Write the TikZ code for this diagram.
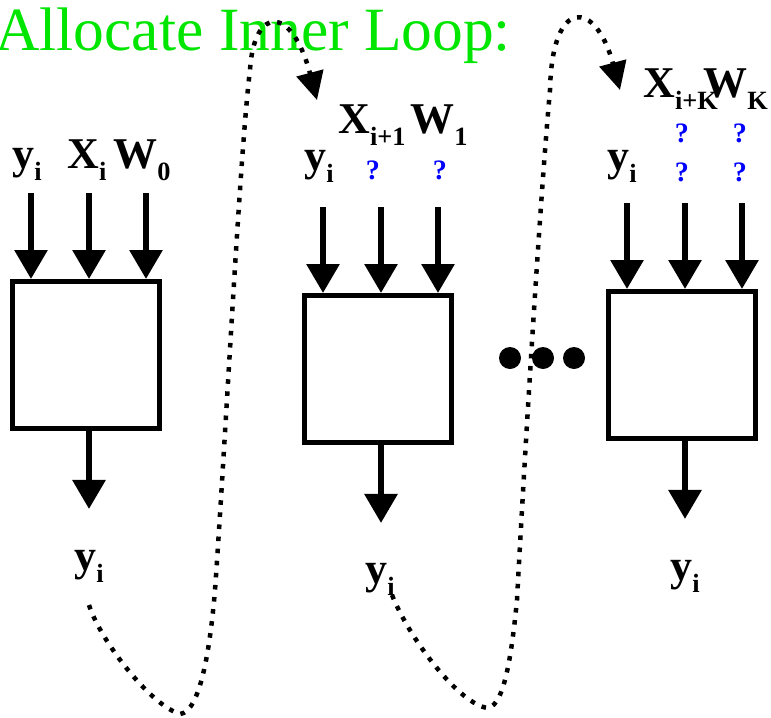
\documentclass[tikz,border=0pt]{standalone}
\usepackage{fontspec}
\setmainfont{Liberation Serif}
\usetikzlibrary{arrows.meta, positioning, calc}
\definecolor{titlegreen}{RGB}{0,230,0}
\definecolor{qblue}{RGB}{0,0,255}
\tikzset{
  blk/.style={draw=black, line width=0.1cm, minimum width=2.94cm, minimum height=2.94cm,
              inner sep=0pt},
  lbl/.style={anchor=base west, inner sep=0pt, font=\fontsize{25}{25}\selectfont\bfseries},
  qm/.style={inner sep=0pt, text=qblue, font=\fontsize{16}{16}\selectfont\bfseries},
  dotc/.style={circle, fill=black, inner sep=0pt, minimum size=0.44cm},
  flow/.style={-{Triangle[length=0.58cm, width=0.64cm]}, line width=0.12cm},
  loopflow/.style={-{Triangle[length=0.56cm, width=0.54cm]}, line width=0.09cm,
                   dash pattern=on 2.6pt off 4.3pt},
}
\newcommand{\sub}[2]{#1\raisebox{-7pt}{\fontsize{15}{15}\selectfont #2}}

\begin{document}
\begin{tikzpicture}[x=0.02cm, y=-0.02cm]
  \useasboundingbox (0,0) rectangle (771,717);
  \node[anchor=base west, inner sep=0pt, text=titlegreen,
        font=\fontsize{35}{35}\selectfont] (title) at (-5,50) {Allocate Inner Loop:};
  % blocks
  \node[blk] (b1) at (86,355) {};
  \node[blk] (b2) at (378,369) {};
  \node[blk] (b3) at (682,365) {};
  \foreach \b in {b1,b2,b3}{
    \foreach \dx in {-55,3,60}
      \draw[flow] ($(\b.north)+(\dx,-86)$) -- ($(\b.north)+(\dx,0)$);
    \draw[flow] ($(\b.south)+(3,0)$) -- ++(0,78);
  }
  % inputs
  \node[lbl] (y1) at (12,168) {\sub{y}{i}};
  \node[lbl] (x1) at (67,168) {\sub{X}{i}};
  \node[lbl] (w1) at (113,168) {\sub{W}{0}};
  \node[lbl] (y2) at (304,170) {\sub{y}{i}};
  \node[lbl] (x2) at (338,133) {\sub{X}{i+1}};
  \node[lbl] (w2) at (410,133) {\sub{W}{1}};
  \node[lbl] (y3) at (607,170) {\sub{y}{i}};
  \node[lbl] (x3) at (643,97) {\sub{X}{i+K}};
  \node[lbl] (w3) at (703,97) {\sub{W}{K}};
  \foreach \x/\y [count=\n] in {373/170,440/170,682/133,740/133,682/172,740/172}
    \node[qm] (q\n) at (\x,\y) {?};
  % outputs
  \node[lbl] (o1) at (74,570) {\sub{y}{i}};
  \node[lbl] (o2) at (365,583) {\sub{y}{i}};
  \node[lbl] (o3) at (670,580) {\sub{y}{i}};
  % more blocks
  \foreach \x [count=\n] in {510,543,574}
    \node[dotc] (d\n) at (\x,358) {};
  % loop
  \coordinate (s1) at (89,605);
  \coordinate (e1) at (317,100);
  \coordinate (s2) at (392,595);
  \coordinate (e2) at (620,90);
  \draw[loopflow] (s1) .. controls (100,640) and (150,705) .. (180,714)
    .. controls (200,712) and (210,650) .. (215,590)
    .. controls (225,450) and (240,150) .. (250,70)
    .. controls (254,5) and (292,5) .. (e1);
  \draw[loopflow] (s2) .. controls (410,640) and (460,705) .. (488,708)
    .. controls (505,705) and (512,650) .. (517,600)
    .. controls (525,450) and (540,200) .. (550,90)
    .. controls (552,-5) and (596,0) .. (e2);
\end{tikzpicture}
\end{document}
